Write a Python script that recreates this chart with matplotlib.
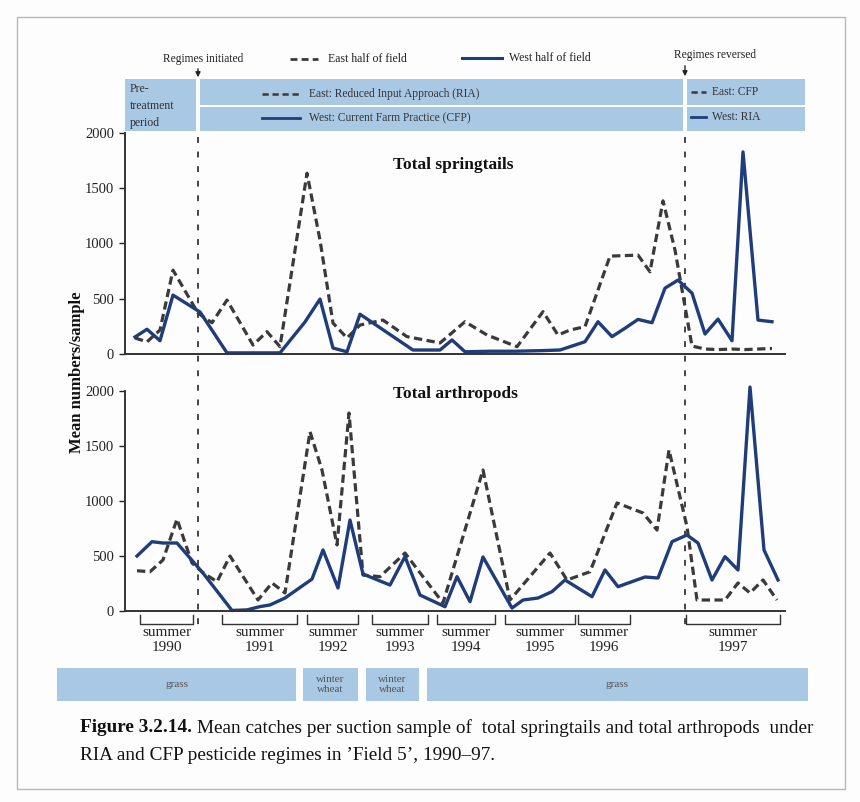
import matplotlib
matplotlib.use("Agg")
import matplotlib.pyplot as plt
from matplotlib.patches import Rectangle

plt.rcParams['font.family'] = ['Liberation Serif', 'DejaVu Serif']

# sample positions (time axis units) and mean catches per sample
spring_west_x = [10, 22, 35, 48, 75, 102, 155, 180, 195, 208, 222, 235, 288, 315, 327, 340,
                 365, 390, 415, 435, 460, 473, 487, 500, 513, 527, 540, 553, 567, 580, 593,
                 607, 618, 633, 647]
spring_west = [154, 224, 120, 533, 380, 10, 10, 290, 497, 54, 20, 360, 36, 36, 127, 20,
               25, 25, 30, 36, 111, 292, 157, 233, 313, 283, 596, 669, 551, 181, 316,
               120, 1829, 307, 292]

spring_east_x = [10, 22, 35, 48, 73, 87, 102, 128, 142, 155, 182, 195, 208, 222, 235, 258,
                 282, 315, 340, 362, 392, 418, 433, 445, 460, 485, 513, 525, 538, 550, 567,
                 580, 593, 607, 620, 633, 647]
spring_east = [145, 110, 217, 759, 370, 283, 488, 81, 202, 66, 1636, 1031, 280, 145, 262, 307,
               157, 100, 292, 172, 66, 383, 172, 217, 247, 886, 895, 744, 1386, 940, 72,
               45, 40, 45, 40, 45, 50]

arth_west_x = [12, 27, 38, 52, 78, 107, 122, 135, 145, 160, 187, 198, 213, 225, 238, 265,
               280, 295, 320, 332, 345, 358, 387, 398, 413, 427, 440, 467, 480, 493, 520,
               533, 547, 562, 573, 587, 600, 613, 625, 639, 653]
arth_west = [500, 630, 618, 618, 345, 5, 10, 40, 55, 118, 290, 555, 209, 827, 336, 236,
             494, 145, 39, 312, 85, 491, 27, 100, 118, 176, 282, 130, 373, 221, 309,
             300, 630, 691, 618, 282, 494, 373, 2036, 555, 282]

arth_east_x = [12, 25, 38, 52, 67, 78, 92, 105, 133, 147, 160, 185, 197, 212, 224, 238,
               255, 280, 318, 358, 385, 425, 442, 465, 492, 518, 532, 544, 562, 572, 600,
               613, 625, 638, 652]
arth_east = [366, 357, 464, 836, 436, 348, 266, 500, 100, 255, 164, 1630, 1282, 600, 1800, 327,
             312, 527, 73, 1282, 100, 527, 282, 357, 982, 891, 736, 1464, 766, 100, 100,
             255, 164, 282, 100]

y_ticks = [0, 500, 1000, 1500, 2000]

# summer sampling periods: (start, end, label)
summers = [(140, 193, 'summer\n1990'), (222, 297, 'summer\n1991'), (307, 358, 'summer\n1992'),
           (372, 428, 'summer\n1993'), (437, 495, 'summer\n1994'), (505, 575, 'summer\n1995'),
           (578, 630, 'summer\n1996'), (686, 780, 'summer\n1997')]

# crops grown: (start, end, label)
crops = [(57, 296, 'grass'), (303, 358, 'winter\nwheat'), (366, 419, 'winter\nwheat'),
         (427, 808, 'grass')]

EAST = '#3a3a3a'
WEST = '#1f3d7a'
BAND = '#a9c8e4'
W, H = 860, 802

fig = plt.figure(figsize=(8.6, 8.02), dpi=100)
fig.patch.set_facecolor('#fdfdfd')


def px_axes(l, t, r, b):
    return fig.add_axes([l / W, 1 - b / H, (r - l) / W, (b - t) / H])


ov = px_axes(0, 0, W, H)
ov.set_xlim(0, W)
ov.set_ylim(H, 0)
ov.axis('off')

# page frame
ov.add_patch(Rectangle((17, 17), 828, 772, fill=False, ec='#b8b8b8', lw=1))

# top key
ov.text(203, 59, 'Regimes initiated', fontsize=8.3, ha='center', va='center', color='#222')
ov.annotate('', xy=(198, 80), xytext=(198, 66),
            arrowprops=dict(arrowstyle='-|>', color='#222', lw=1, mutation_scale=7))
ov.text(715, 55, 'Regimes reversed', fontsize=8.3, ha='center', va='center', color='#222')
ov.annotate('', xy=(685, 79), xytext=(685, 63),
            arrowprops=dict(arrowstyle='-|>', color='#222', lw=1, mutation_scale=7))
ov.plot([290, 318], [59, 59], color=EAST, lw=2, dashes=(2.5, 1.5))
ov.text(328, 59, 'East half of field', fontsize=8.5, va='center', color='#222')
ov.plot([462, 502], [58, 58], color=WEST, lw=2.2)
ov.text(509, 58, 'West half of field', fontsize=8.5, va='center', color='#222')

# treatment band
ov.add_patch(Rectangle((125, 79), 71, 52, color=BAND, lw=0))
ov.add_patch(Rectangle((200, 79), 483, 26, color=BAND, lw=0))
ov.add_patch(Rectangle((200, 107), 483, 24, color=BAND, lw=0))
ov.add_patch(Rectangle((687, 79), 118, 26, color=BAND, lw=0))
ov.add_patch(Rectangle((687, 107), 118, 24, color=BAND, lw=0))
ov.text(130, 106, 'Pre-\ntreatment\nperiod', fontsize=8.5, va='center', color='#333',
        linespacing=1.6)
ov.plot([262, 300], [94, 94], color=EAST, lw=1.8, dashes=(2.5, 1.5))
ov.text(309, 94, 'East: Reduced Input Approach (RIA)', fontsize=8.3, va='center', color='#333')
ov.plot([262, 300], [118, 118], color=WEST, lw=2)
ov.text(309, 118, 'West: Current Farm Practice (CFP)', fontsize=8.3, va='center', color='#333')
ov.plot([691, 706], [92, 92], color=EAST, lw=1.8, dashes=(2.5, 1.5))
ov.text(712, 92, 'East: CFP', fontsize=8.3, va='center', color='#333')
ov.plot([691, 706], [117, 117], color=WEST, lw=2)
ov.text(712, 117, 'West: RIA', fontsize=8.3, va='center', color='#333')

# regime change markers
for xr in (198, 685):
    ov.plot([xr, xr], [137, 628], color='#444', lw=1.4, dashes=(3, 4.5))


def panel(top, bottom, west_x, west, east_x, east):
    ax = px_axes(125, top, 785, bottom)
    ax.set_zorder(2)
    ax.patch.set_alpha(0)
    ax.set_xlim(0, 660)
    ax.set_ylim(0, 2000)
    for s in ('top', 'right'):
        ax.spines[s].set_visible(False)
    for s in ('left', 'bottom'):
        ax.spines[s].set_color('#333')
        ax.spines[s].set_linewidth(1.4)
    ax.set_xticks([])
    ax.set_yticks(y_ticks)
    ax.tick_params(axis='y', length=4, width=1, labelsize=10.5, pad=4, colors='#222')
    ax.plot(east_x, east, color=EAST, lw=2.3, dashes=(2.6, 1.4), clip_on=False)
    ax.plot(west_x, west, color=WEST, lw=2.4, clip_on=False)
    return ax


panel(133, 354, spring_west_x, spring_west, spring_east_x, spring_east)
panel(391, 611, arth_west_x, arth_west, arth_east_x, arth_east)

ov.text(453, 165, 'Total springtails', fontsize=12.5, fontweight='bold', ha='center',
        va='center', color='#111')
ov.text(455, 394, 'Total arthropods', fontsize=12.5, fontweight='bold', ha='center',
        va='center', color='#111')
ov.text(77, 372, 'Mean numbers/sample', fontsize=12, fontweight='bold', rotation=90,
        ha='center', va='center', color='#111')

# summer brackets
for l, r, lab in summers:
    ov.plot([l, l, r, r], [615, 624, 624, 615], color='#333', lw=1)
    ov.text((l + r) / 2, 626, lab, fontsize=11, ha='center', va='top', color='#222',
            linespacing=1.2)

# crop bar
for l, r, lab in crops:
    ov.add_patch(Rectangle((l, 668), r - l, 33, color=BAND, lw=0))
    ov.text((l + r) / 2, 684.5, lab, fontsize=8, ha='center', va='center', color='#555',
            linespacing=1.0)

# caption
t1 = ov.text(80, 728, 'Figure 3.2.14.', fontsize=13.9, fontweight='bold', va='center',
             color='#111')
fig.canvas.draw()
bb = t1.get_window_extent()
x_after = ov.transData.inverted().transform((bb.x1, bb.y0))[0]
ov.text(x_after + 5, 728,
        'Mean catches per suction sample of  total springtails and total arthropods  under',
        fontsize=13.9, va='center', color='#111')
ov.text(80, 756, 'RIA and CFP pesticide regimes in \u2019Field 5\u2019, 1990\u201397.',
        fontsize=13.9, va='center', color='#111')

fig.savefig('out.png', dpi=100, facecolor=fig.get_facecolor())
